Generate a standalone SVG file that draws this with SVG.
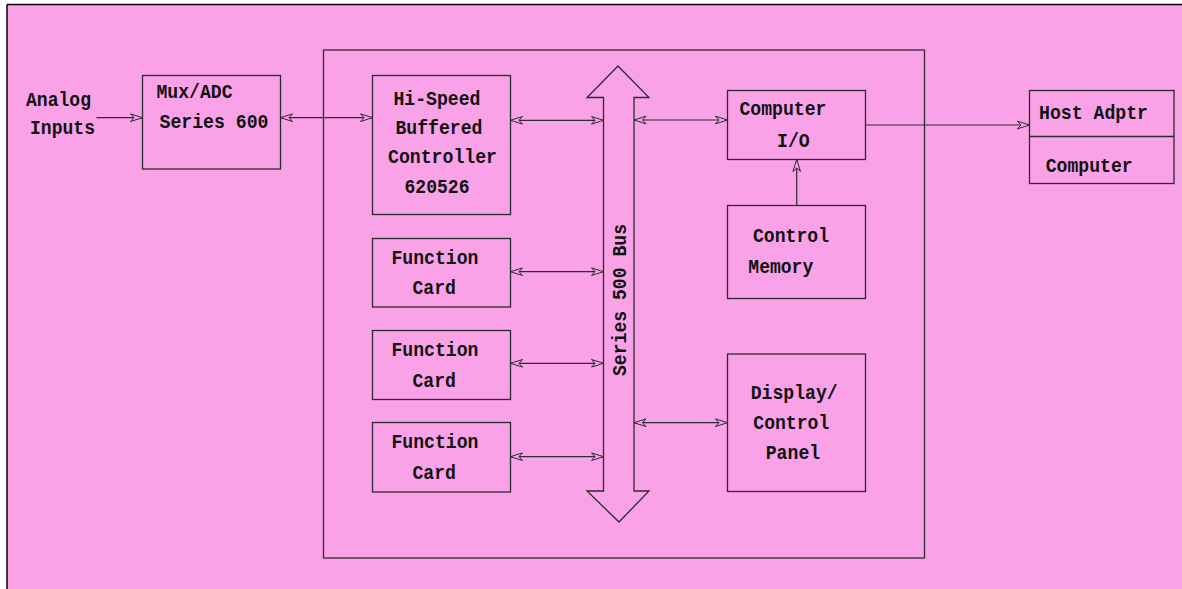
<svg xmlns="http://www.w3.org/2000/svg" width="1182" height="589" viewBox="0 0 1182 589">
  <defs>
    <style>
      .box { fill: none; stroke: #2b2b2b; stroke-width: 1.3; }
      .wire { fill: none; stroke: #2b2b2b; stroke-width: 1.2; }
      .lbl { font-family: "Liberation Mono", "Courier New", monospace; font-weight: bold; font-size: 21px; fill: #111; }
    </style>
    <marker id="head" viewBox="-1 -5 14 10" refX="12" refY="0" markerWidth="14" markerHeight="10" markerUnits="userSpaceOnUse" orient="auto-start-reverse">
      <path d="M12,0 L0,-3.8 L3.5,0 L0,3.8 Z" fill="#faa2e8" stroke="#2b2b2b" stroke-width="1"/>
    </marker>
  </defs>

  <!-- page -->
  <rect x="0" y="0" width="1182" height="589" fill="#ffffff"/>
  <rect x="7" y="4.5" width="1176" height="586" fill="#faa2e8"/>
  <path d="M7,4.5 H1182 M7,4.5 V589" fill="none" stroke="#000" stroke-width="1.5"/>

  <!-- system enclosure -->
  <rect id="enclosure" class="box" x="323.5" y="50" width="601" height="508"/>

  <!-- input labels -->
  <g id="analog-inputs">
    <text class="lbl" x="26" y="106" textLength="65" lengthAdjust="spacingAndGlyphs">Analog</text>
    <text class="lbl" x="30" y="134" textLength="65" lengthAdjust="spacingAndGlyphs">Inputs</text>
  </g>

  <g id="mux-adc">
    <rect class="box" x="142.5" y="75.5" width="138" height="93.5"/>
    <text class="lbl" x="156.5" y="97.5" textLength="76" lengthAdjust="spacingAndGlyphs">Mux/ADC</text>
    <text class="lbl" x="159.5" y="128" textLength="109" lengthAdjust="spacingAndGlyphs">Series 600</text>
  </g>

  <g id="controller">
    <rect class="box" x="372.5" y="75.5" width="138" height="139"/>
    <text class="lbl" x="393.5" y="105" textLength="87" lengthAdjust="spacingAndGlyphs">Hi-Speed</text>
    <text class="lbl" x="395.5" y="134" textLength="87" lengthAdjust="spacingAndGlyphs">Buffered</text>
    <text class="lbl" x="388" y="163.3" textLength="109" lengthAdjust="spacingAndGlyphs">Controller</text>
    <text class="lbl" x="404.5" y="193.3" textLength="65" lengthAdjust="spacingAndGlyphs">620526</text>
  </g>

  <g id="function-card-1">
    <rect class="box" x="372.5" y="238.5" width="138" height="68.5"/>
    <text class="lbl" x="391.5" y="264.3" textLength="87" lengthAdjust="spacingAndGlyphs">Function</text>
    <text class="lbl" x="412.5" y="294.3" textLength="43.5" lengthAdjust="spacingAndGlyphs">Card</text>
  </g>

  <g id="function-card-2">
    <rect class="box" x="372.5" y="330.5" width="138" height="69"/>
    <text class="lbl" x="391.5" y="355.7" textLength="87" lengthAdjust="spacingAndGlyphs">Function</text>
    <text class="lbl" x="412.5" y="386.7" textLength="43.5" lengthAdjust="spacingAndGlyphs">Card</text>
  </g>

  <g id="function-card-3">
    <rect class="box" x="372.5" y="422.5" width="138" height="69.5"/>
    <text class="lbl" x="391.5" y="447.7" textLength="87" lengthAdjust="spacingAndGlyphs">Function</text>
    <text class="lbl" x="412.5" y="479" textLength="43.5" lengthAdjust="spacingAndGlyphs">Card</text>
  </g>

  <g id="bus">
    <path class="box" d="M603.5,97.5 H587 L618,66 L649,97.5 H634 V491 H649 L619,522 L587,491 H603.5 Z"/>
    <text class="lbl" transform="translate(626,376) rotate(-90)" x="0" y="0" textLength="152" lengthAdjust="spacingAndGlyphs">Series 500 Bus</text>
  </g>

  <g id="computer-io">
    <rect class="box" x="727.5" y="90.5" width="138" height="69"/>
    <text class="lbl" x="739.5" y="115" textLength="87" lengthAdjust="spacingAndGlyphs">Computer</text>
    <text class="lbl" x="777" y="146.7" textLength="32.7" lengthAdjust="spacingAndGlyphs">I/O</text>
  </g>

  <g id="control-memory">
    <rect class="box" x="727.5" y="205.5" width="138" height="93"/>
    <text class="lbl" x="753" y="242.3" textLength="76" lengthAdjust="spacingAndGlyphs">Control</text>
    <text class="lbl" x="748.3" y="273.3" textLength="65" lengthAdjust="spacingAndGlyphs">Memory</text>
  </g>

  <g id="display-panel">
    <rect class="box" x="727.5" y="354" width="138" height="137.5"/>
    <text class="lbl" x="750.7" y="399.3" textLength="87" lengthAdjust="spacingAndGlyphs">Display/</text>
    <text class="lbl" x="753.3" y="429.3" textLength="76" lengthAdjust="spacingAndGlyphs">Control</text>
    <text class="lbl" x="765.7" y="459" textLength="54.5" lengthAdjust="spacingAndGlyphs">Panel</text>
  </g>

  <g id="host-adapter">
    <rect class="box" x="1029.5" y="90.5" width="144.5" height="93"/>
    <line class="box" x1="1029.5" y1="136.5" x2="1174" y2="136.5"/>
    <text class="lbl" x="1039" y="119" textLength="109" lengthAdjust="spacingAndGlyphs">Host Adptr</text>
    <text class="lbl" x="1045.7" y="171.7" textLength="87" lengthAdjust="spacingAndGlyphs">Computer</text>
  </g>

  <!-- connectors -->
  <g id="connectors">
    <line class="wire" x1="96.5" y1="117.7" x2="142.5" y2="117.7" marker-end="url(#head)"/>
    <line class="wire" x1="280.5" y1="117.7" x2="372.5" y2="117.7" marker-start="url(#head)" marker-end="url(#head)"/>
    <line class="wire" x1="510.5" y1="120.3" x2="603.5" y2="120.3" marker-start="url(#head)" marker-end="url(#head)"/>
    <line class="wire" x1="510.5" y1="271.7" x2="603.5" y2="271.7" marker-start="url(#head)" marker-end="url(#head)"/>
    <line class="wire" x1="510.5" y1="363.3" x2="603.5" y2="363.3" marker-start="url(#head)" marker-end="url(#head)"/>
    <line class="wire" x1="510.5" y1="456.7" x2="603.5" y2="456.7" marker-start="url(#head)" marker-end="url(#head)"/>
    <line class="wire" x1="634" y1="120" x2="727.5" y2="120" marker-start="url(#head)" marker-end="url(#head)"/>
    <line class="wire" x1="634" y1="422.7" x2="727.5" y2="422.7" marker-start="url(#head)" marker-end="url(#head)"/>
    <line class="wire" x1="796.7" y1="205.5" x2="796.7" y2="159.5" marker-end="url(#head)"/>
    <line class="wire" x1="865.5" y1="125" x2="1029.5" y2="125" marker-end="url(#head)"/>
  </g>
</svg>
